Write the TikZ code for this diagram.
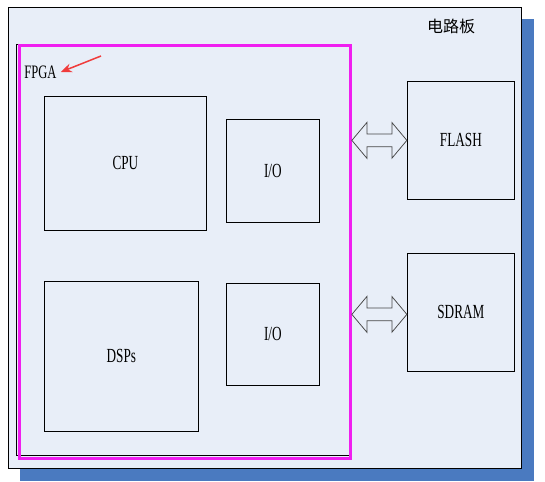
\documentclass[tikz,border=0pt]{standalone}
\usepackage{fontspec}
\usetikzlibrary{shapes.arrows,calc,arrows.meta}
\newfontfamily\latinfont[FakeStretch=0.66]{Liberation Serif}
\newfontfamily\cjkfont{Noto Sans CJK SC}
\definecolor{boardfill}{RGB}{232,238,248}
\definecolor{shadowblue}{RGB}{74,122,192}
\definecolor{fpgapink}{RGB}{240,30,240}
\definecolor{arrowred}{RGB}{240,60,60}
\definecolor{arrowgray}{RGB}{70,70,70}
\tikzset{every picture/.style={line width=0.75pt}}
\tikzset{
  block/.style={draw, fill=boardfill, inner sep=0pt, anchor=north west, font=\latinfont\fontsize{20}{22}\selectfont},
  busarrow/.style={double arrow, draw=arrowgray, fill=boardfill, inner xsep=0pt, inner ysep=6pt, minimum height=55, double arrow head extend=11.5, double arrow tip angle=100}
}
\begin{document}
\begin{tikzpicture}[x=1pt,y=1pt,yscale=-1]
\useasboundingbox (0,0) rectangle (545,481);
%Board with its shadow
\node [block, minimum width=513, minimum height=461] (board) at (8,7) {};
\fill [shadowblue] ([shift={(12,12)}]board.north west) rectangle ([shift={(12,12)}]board.south east);
\node [block, minimum width=513, minimum height=461] at (8,7) {};
\node [font=\cjkfont\fontsize{16}{18}\selectfont] (boardlabel) at (451,26) {电路板};
%FPGA frame
\node [block, minimum width=335, minimum height=411] (fpga) at (16,44) {};
\draw [fpgapink, line width=3pt] ([shift={(3,2)}]fpga.north west) rectangle ([shift={(-1,3)}]fpga.south east);
\node [anchor=west, inner sep=1pt, font=\latinfont\fontsize{19}{20}\selectfont] (fpgalabel) at (23,72) {FPGA};
\coordinate (fpgapointer) at (101,56);
\draw [arrowred, line width=1.5pt, -{Stealth[length=11pt,width=9pt]}] (fpgapointer) -- ([xshift=3pt]fpgalabel.east);
%Blocks inside FPGA
\node [block, minimum width=162, minimum height=134] (cpu) at (44,96) {CPU};
\node [block, minimum width=93, minimum height=103] (ioA) at (226,119) {I/O};
\node [block, minimum width=154, minimum height=150] (dsps) at (44,281) {DSPs};
\node [block, minimum width=93, minimum height=102] (ioB) at (226,283) {I/O};
%Memories
\node [block, minimum width=107, minimum height=118] (flash) at (407,81) {FLASH};
\node [block, minimum width=107, minimum height=118] (sdram) at (407,253) {SDRAM};
%Buses
\node [busarrow] (busA) at ($(fpga.east |- flash.west)!0.5!(flash.west)$) {};
\node [busarrow] (busB) at ($(fpga.east |- sdram.west)!0.5!(sdram.west)+(0,2)$) {};
\end{tikzpicture}
\end{document}
